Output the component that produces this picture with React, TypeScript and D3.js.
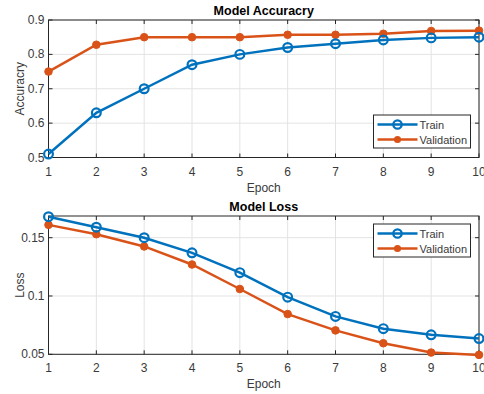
import React from "react";
import * as d3 from "d3";

const epochs = [1, 2, 3, 4, 5, 6, 7, 8, 9, 10];
const accTrain = [0.51, 0.63, 0.7, 0.77, 0.8, 0.82, 0.831, 0.842, 0.848, 0.85];
const accVal = [0.75, 0.828, 0.85, 0.85, 0.85, 0.857, 0.857, 0.86, 0.868, 0.869];
const lossTrain = [0.168, 0.159, 0.15, 0.137, 0.12, 0.099, 0.0825, 0.072, 0.0667, 0.0635];
const lossVal = [0.161, 0.153, 0.1425, 0.127, 0.106, 0.0845, 0.0705, 0.0595, 0.0515, 0.0495];
const accTicks = [0.5, 0.6, 0.7, 0.8, 0.9];
const lossTicks = [0.05, 0.1, 0.15];
const seriesNames = ["Train", "Validation"];

const BLUE = "#0072BD";
const ORANGE = "#D95319";
const AX = "#262626";
const TXT = "#3a3a3a";
const GRID = "#e3e3e3";
const FONT = "'Liberation Sans', Arial, Helvetica, sans-serif";

type PanelProps = {
  top: number;
  bottom: number;
  domain: [number, number];
  ticks: number[];
  fmt: (v: number) => string;
  train: number[];
  val: number[];
  title: string;
  ylabel: string;
  legendTop: number;
};

const LEFT = 48.5;
const RIGHT = 479;

function Panel(p: PanelProps) {
  const x = d3.scaleLinear().domain([1, 10]).range([LEFT, RIGHT]);
  const y = d3.scaleLinear().domain(p.domain).range([p.bottom, p.top]);
  const line = d3
    .line<number>()
    .x((_, i) => x(epochs[i]))
    .y((d) => y(d));
  const tl = 4;
  const midX = (LEFT + RIGHT) / 2;
  const lg = { x: 373.5, y: p.legendTop, w: 97, h: 33 };
  return (
    <g>
      {epochs.map((e) => (
        <line key={"gx" + e} x1={x(e)} x2={x(e)} y1={p.top} y2={p.bottom} stroke={GRID} strokeWidth={1} />
      ))}
      {p.ticks.map((t) => (
        <line key={"gy" + t} x1={LEFT} x2={RIGHT} y1={y(t)} y2={y(t)} stroke={GRID} strokeWidth={1} />
      ))}
      <rect x={LEFT} y={p.top} width={RIGHT - LEFT} height={p.bottom - p.top} fill="none" stroke={AX} strokeWidth={1} />
      {epochs.map((e) => (
        <g key={"tx" + e}>
          <line x1={x(e)} x2={x(e)} y1={p.bottom} y2={p.bottom - tl} stroke={AX} />
          <line x1={x(e)} x2={x(e)} y1={p.top} y2={p.top + tl} stroke={AX} />
          <text x={x(e)} y={p.bottom + 18} textAnchor="middle" fontSize={12} fill={TXT} fontFamily={FONT}>
            {e}
          </text>
        </g>
      ))}
      {p.ticks.map((t) => (
        <g key={"ty" + t}>
          <line x1={LEFT} x2={LEFT + tl} y1={y(t)} y2={y(t)} stroke={AX} />
          <line x1={RIGHT} x2={RIGHT - tl} y1={y(t)} y2={y(t)} stroke={AX} />
          <text x={LEFT - 4} y={y(t) + 4} textAnchor="end" fontSize={12} fill={TXT} fontFamily={FONT}>
            {p.fmt(t)}
          </text>
        </g>
      ))}
      <text x={midX} y={p.top - 5} textAnchor="middle" fontSize={12.5} fontWeight="bold" fill="#000" fontFamily={FONT}>
        {p.title}
      </text>
      <text x={midX} y={p.bottom + 34} textAnchor="middle" fontSize={12} fill={TXT} fontFamily={FONT}>
        Epoch
      </text>
      <text
        transform={`translate(${24},${(p.top + p.bottom) / 2}) rotate(-90)`}
        textAnchor="middle"
        fontSize={12}
        fill={TXT}
        fontFamily={FONT}
      >
        {p.ylabel}
      </text>
      <path d={line(p.train) || ""} fill="none" stroke={BLUE} strokeWidth={2.5} />
      <path d={line(p.val) || ""} fill="none" stroke={ORANGE} strokeWidth={2.5} />
      {p.val.map((v, i) => (
        <circle key={"vm" + i} cx={x(epochs[i])} cy={y(v)} r={3.8} fill={ORANGE} stroke={ORANGE} strokeWidth={1} />
      ))}
      {p.train.map((v, i) => (
        <circle key={"tm" + i} cx={x(epochs[i])} cy={y(v)} r={4.4} fill="none" stroke={BLUE} strokeWidth={2.2} />
      ))}
      <rect x={lg.x} y={lg.y} width={lg.w} height={lg.h} fill="#fff" stroke={AX} strokeWidth={1} />
      {seriesNames.map((n, i) => {
        const cy = lg.y + 9.5 + i * 15;
        const c = i === 0 ? BLUE : ORANGE;
        return (
          <g key={n}>
            <line x1={lg.x + 4} x2={lg.x + 44} y1={cy} y2={cy} stroke={c} strokeWidth={2.5} />
            {i === 0 ? (
              <circle cx={lg.x + 24} cy={cy} r={4.2} fill="none" stroke={c} strokeWidth={2.2} />
            ) : (
              <circle cx={lg.x + 24} cy={cy} r={3.6} fill={c} />
            )}
            <text x={lg.x + 46} y={cy + 4} fontSize={11} fill={TXT} fontFamily={FONT}>
              {n}
            </text>
          </g>
        );
      })}
    </g>
  );
}

export default function App() {
  return (
    <svg
      width={484}
      height={394}
      style={{ position: "absolute", left: 0, top: 0, background: "#fff" }}
    >
      <rect width={484} height={394} fill="#fff" />
      <Panel
        top={20}
        bottom={157.5}
        domain={[0.5, 0.9]}
        ticks={accTicks}
        fmt={(v) => d3.format(".1f")(v)}
        train={accTrain}
        val={accVal}
        title="Model Accuracry"
        ylabel="Accuracry"
        legendTop={115}
      />
      <Panel
        top={216}
        bottom={354.3}
        domain={[0.05, 0.1686]}
        ticks={lossTicks}
        fmt={(v) => String(+v.toFixed(2))}
        train={lossTrain}
        val={lossVal}
        title="Model Loss"
        ylabel="Loss"
        legendTop={224}
      />
    </svg>
  );
}
